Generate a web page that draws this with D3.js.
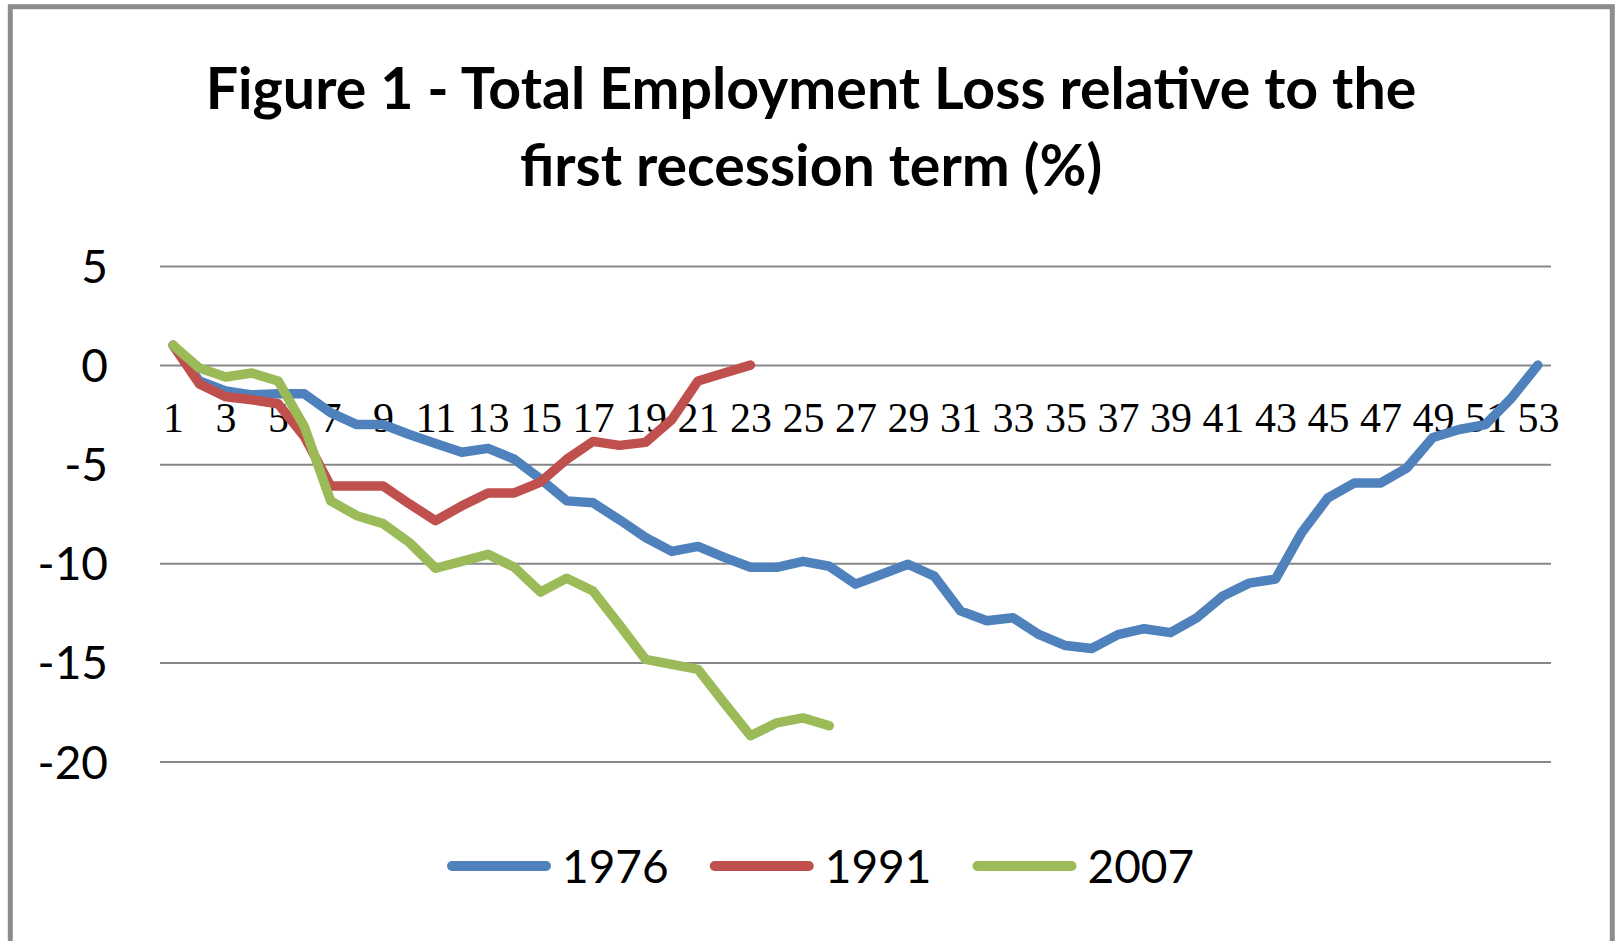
<!DOCTYPE html>
<html>
<head>
<meta charset="utf-8">
<script src="https://cdn.jsdelivr.net/npm/d3@7/dist/d3.min.js"></script>
<style>
  body { margin: 0; background: #fff; }
  svg { display: block; }
</style>
</head>
<body>
<script>
// recession term (1..53) on a category axis, only odd ones labelled
const terms = d3.range(1, 54);
const tickTerms = terms.filter(t => t % 2 == 1);
const yTicks = [5, 0, -5, -10, -15, -20];

// employment loss relative to the first recession term (%)
const loss1976 = [1, -0.8, -1.3, -1.5, -1.45, -1.45, -2.4, -3.0, -3.0, -3.5,
                  -3.95, -4.4, -4.2, -4.75, -5.75, -6.85, -6.95, -7.8, -8.7, -9.4,
                  -9.15, -9.7, -10.2, -10.2, -9.9, -10.15, -11.05, -10.55, -10.05, -10.65,
                  -12.4, -12.9, -12.75, -13.6, -14.15, -14.3, -13.6, -13.3, -13.5, -12.75,
                  -11.65, -11.0, -10.8, -8.45, -6.7, -5.95, -5.95, -5.2, -3.65, -3.25,
                  -3.0, -1.65, 0];
const loss1991 = [1, -0.95, -1.6, -1.75, -1.95, -3.6, -6.1, -6.1, -6.1, -7.0,
                  -7.85, -7.1, -6.45, -6.45, -5.9, -4.75, -3.85, -4.05, -3.9, -2.75,
                  -0.8, -0.4, 0];
const loss2007 = [1, -0.15, -0.6, -0.4, -0.8, -3.1, -6.85, -7.6, -8.0, -8.95,
                  -10.25, -9.9, -9.55, -10.2, -11.45, -10.75, -11.4, -13.1, -14.85, -15.1,
                  -15.35, -17.05, -18.7, -18.05, -17.8, -18.2];

const seriesNames = ["1976", "1991", "2007"];
const seriesColors = ["#4F81BD", "#C0504D", "#9BBB59"];
const titleLines = ["Figure 1 - Total Employment Loss relative to the",
                    "first recession term (%)"];

const series = [loss1976, loss1991, loss2007].map((values, i) => ({
  name: seriesNames[i],
  color: seriesColors[i],
  values: values.map((v, j) => ({term: terms[j], value: v}))
}));

const width = 1618, height = 941;
const plot = {left: 160, right: 1551, top: 266, bottom: 761.5};
const sansFont = "Lato, 'Open Sans', sans-serif";

const svg = d3.select("body").append("svg")
    .attr("width", width)
    .attr("height", height);

svg.append("rect")
    .attr("width", width)
    .attr("height", height)
    .attr("fill", "#fff");

// chart frame, bottom edge falls outside the picture
svg.append("rect")
    .attr("x", 10.3)
    .attr("y", 6.7)
    .attr("width", 1602)
    .attr("height", 1000)
    .attr("fill", "none")
    .attr("stroke", "#8c8c8c")
    .attr("stroke-width", 5);

var x = d3.scalePoint()
    .domain(terms)
    .range([plot.left, plot.right])
    .padding(0.5);

var y = d3.scaleLinear()
    .domain([-20, 5])
    .range([plot.bottom, plot.top]);

// y axis with gridlines (plain hyphen for negatives, like the original)
var yAxis = g => g
    .attr("transform", `translate(${plot.left},0)`)
    .call(d3.axisLeft(y)
        .tickValues(yTicks)
        .tickFormat(d => String(d))
        .tickSize(-(plot.right - plot.left))
        .tickPadding(52))
    .call(g => g.select(".domain").remove())
    .call(g => g.selectAll(".tick line")
        .attr("stroke", "#878787")
        .attr("stroke-width", 2))
    .call(g => g.selectAll(".tick text")
        .attr("fill", "#000")
        .attr("dy", "0.36em")
        .style("font", `46px ${sansFont}`));

svg.append("g").call(yAxis);

// category labels sit just under the zero line
var xAxis = g => g
    .attr("transform", `translate(0,${y(0)})`)
    .call(d3.axisBottom(x).tickValues(tickTerms).tickSize(0))
    .call(g => g.select(".domain").remove())
    .call(g => g.selectAll(".tick text")
        .attr("fill", "#000")
        .attr("y", 67)
        .attr("dy", 0)
        .style("font", "42px 'Liberation Serif', 'Times New Roman', serif"));

svg.append("g").call(xAxis);

var line = d3.line()
    .x(d => x(d.term))
    .y(d => y(d.value));

svg.append("g")
  .selectAll("path")
  .data(series)
  .join("path")
    .attr("fill", "none")
    .attr("stroke", d => d.color)
    .attr("stroke-width", 9.5)
    .attr("stroke-linejoin", "round")
    .attr("stroke-linecap", "round")
    .attr("d", d => line(d.values));

// title, fitted to the width of the original first line
const title = svg.append("g")
    .attr("font-family", sansFont)
    .attr("font-weight", "bold")
    .attr("text-anchor", "middle");

const titleText = title.selectAll("text")
  .data(titleLines)
  .join("text")
    .attr("x", 811)
    .attr("y", (d, i) => i == 0 ? 109 : 186)
    .attr("font-size", 50)
    .text(d => d);

const firstWidth = titleText.node().getComputedTextLength();
titleText.attr("font-size", 50 * 1211 / firstWidth);

// legend
const legend = svg.append("g")
    .style("font", `46px ${sansFont}`);

let lx = 452;
series.forEach(function(s) {
  legend.append("line")
    .attr("x1", lx)
    .attr("x2", lx + 94)
    .attr("y1", 866)
    .attr("y2", 866)
    .attr("stroke", s.color)
    .attr("stroke-width", 10)
    .attr("stroke-linecap", "round");
  const t = legend.append("text")
    .attr("x", lx + 110)
    .attr("y", 866)
    .attr("dy", "0.36em")
    .attr("fill", "#000")
    .text(s.name);
  lx += 110 + t.node().getComputedTextLength() + 46;
});
</script>
</body>
</html>
